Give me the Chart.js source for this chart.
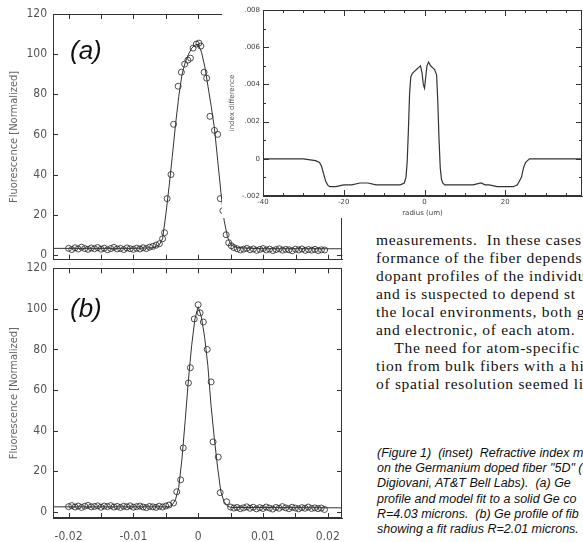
<!DOCTYPE html>
<html>
<head>
<meta charset="utf-8">
<script src="https://cdn.jsdelivr.net/npm/chart.js@4.4.1/dist/chart.umd.min.js"></script>
<style>
  html, body { margin: 0; padding: 0; background: #fff; }
  body { width: 583px; height: 542px; overflow: hidden; position: relative; }
  canvas { position: absolute; }
  #chartA { left: 0; top: 0; }
  #chartB { left: 0; top: 255px; }
  #inset { left: 222px; top: 0; background: #fff; }
  .tag { position: absolute; font: italic 26px "Liberation Sans", Arial, sans-serif; color: #111; }
  #text { position: absolute; left: 376px; top: 231px; font: 15.5px "Liberation Serif", serif;
          line-height: 18px; letter-spacing: 0.7px; white-space: nowrap; color: #111; }
  #caption { position: absolute; left: 377px; top: 446px; font: italic 12.5px "Liberation Sans", Arial, sans-serif;
             line-height: 15.2px; white-space: nowrap; color: #111; }
</style>
</head>
<body>
<canvas id="chartA" width="347" height="273"></canvas>
<canvas id="chartB" width="352" height="287"></canvas>
<canvas id="inset" width="361" height="218"></canvas>
<div class="tag" style="left:70px; top:35px;">(a)</div>
<div class="tag" style="left:70px; top:293px;">(b)</div>
<div id="text">
  <div>measurements.&nbsp; In these cases</div>
  <div>formance of the fiber depends</div>
  <div>dopant profiles of the individu</div>
  <div>and is suspected to depend st</div>
  <div>the local environments, both g</div>
  <div>and electronic, of each atom.</div>
  <div>&nbsp;&nbsp;&nbsp;&nbsp;The need for atom-specific</div>
  <div>tion from bulk fibers with a hi</div>
  <div>of spatial resolution seemed li</div>
</div>
<div id="caption">
  <div>(Figure 1)&nbsp; (inset)&nbsp; Refractive index m</div>
  <div>on the Germanium doped fiber "5D" (</div>
  <div>Digiovani, AT&amp;T Bell Labs).&nbsp; (a) Ge</div>
  <div>profile and model fit to a solid Ge co</div>
  <div>R=4.03 microns.&nbsp; (b) Ge profile of fib</div>
  <div>showing a fit radius R=2.01 microns.</div>
</div>
<script>
// (a) measured points
const aX = [-0.0200,-0.0195,-0.0190,-0.0185,-0.0180,-0.0175,-0.0170,-0.0165,-0.0160,-0.0155,
  -0.0150,-0.0145,-0.0140,-0.0135,-0.0130,-0.0125,-0.0120,-0.0115,-0.0110,-0.0105,
  -0.0100,-0.0095,-0.0090,-0.0085,-0.0080,-0.0075,-0.0070,-0.0065,
  -0.0060,-0.0055,-0.0052,-0.0048,-0.0042,-0.0038,-0.0031,-0.0026,-0.0021,-0.0016,
  -0.0012,-0.0008,-0.0003,0.0001,0.0004,0.0009,0.0013,0.0018,0.0025,0.0030,
  0.0034,0.0038,0.0043,0.0047,0.0051,
  0.0055,0.0060,0.0065,0.0070,0.0075,0.0080,0.0085,0.0090,0.0095,0.0100,
  0.0105,0.0110,0.0115,0.0120,0.0125,0.0130,0.0135,0.0140,0.0145,0.0150,
  0.0155,0.0160,0.0165,0.0170,0.0175,0.0180,0.0185,0.0190,0.0195];
const aY = [3.2,2.6,3.5,2.9,3.8,3.1,2.7,3.4,3.0,3.6,
  2.8,3.3,2.5,3.1,3.7,2.9,3.2,2.6,3.4,3.0,
  2.7,3.3,2.9,3.5,3.1,3.8,4.2,4.8,
  5.5,8,11,28,40,65,84,91,95,97,
  98,103,105,105.5,104,91,88,69,62,60,
  28,22,10,6,4.5,
  3.6,3.0,2.4,2.8,3.2,2.5,2.9,2.2,2.7,3.1,
  2.4,2.8,2.1,2.6,3.0,2.3,2.7,2.5,2.0,2.8,
  2.4,2.9,2.2,2.6,2.3,2.7,2.1,2.5,2.4];
// (a) model fit
const aFitX = [-0.0224,-0.0100,-0.0070,-0.0060,-0.0055,-0.0050,-0.0045,-0.0040,-0.0035,-0.0030,
  -0.0025,-0.0020,-0.0015,-0.0010,-0.0005,0,0.0005,0.0010,0.0015,0.0020,
  0.0025,0.0030,0.0035,0.0040,0.0045,0.0050,0.0060,0.0100,0.0222];
const aFitY = [3.2,3.2,3.5,5,8,20,34,49,65,79,
  90,96,100,103,104.5,105,101,94,84,74,
  63,47,31,17,9,5,3.5,3,3];

// (b) measured points
const bX = [-0.0200,-0.0195,-0.0190,-0.0185,-0.0180,-0.0175,-0.0170,-0.0165,-0.0160,-0.0155,
  -0.0150,-0.0145,-0.0140,-0.0135,-0.0130,-0.0125,-0.0120,-0.0115,-0.0110,-0.0105,
  -0.0100,-0.0095,-0.0090,-0.0085,-0.0080,-0.0075,-0.0070,-0.0065,-0.0060,-0.0055,
  -0.0050,-0.0045,
  -0.0038,-0.0033,-0.0027,-0.0023,-0.0015,-0.0012,-0.0006,0.0000,0.0003,0.0008,
  0.0014,0.0020,0.0023,0.0031,0.0034,0.0044,
  0.0050,0.0055,0.0060,0.0065,0.0070,0.0075,0.0080,0.0085,0.0090,0.0095,
  0.0100,0.0105,0.0110,0.0115,0.0120,0.0125,0.0130,0.0135,0.0140,0.0145,
  0.0150,0.0155,0.0160,0.0165,0.0170,0.0175,0.0180,0.0185,0.0190,0.0195];
const bY = [2.6,3.1,2.4,2.9,2.2,2.8,3.2,2.5,2.7,3.0,
  2.3,2.9,2.6,3.1,2.4,2.7,2.2,2.8,2.5,3.0,
  2.3,2.6,2.9,2.4,2.1,2.7,2.5,2.2,2.8,2.4,
  2.9,3.4,
  4.4,9.9,15.8,31.5,63.5,71,95,102,98,93.5,
  80,64,34.5,27,9.5,5,
  2.4,1.9,2.2,1.6,2.0,2.5,1.8,2.3,1.5,2.1,
  1.7,2.4,1.9,1.4,2.2,1.8,2.6,2.0,1.6,2.3,
  1.9,1.5,2.1,1.8,2.4,1.7,2.0,1.6,1.9,1.2];
// (b) model fit
const bFitX = [-0.0224,-0.0045,-0.0040,-0.0035,-0.0030,-0.0025,-0.0020,-0.0015,-0.0010,-0.0005,
  0,0.0005,0.0010,0.0015,0.0020,0.0025,0.0030,0.0035,0.0040,0.0045,0.0050,0.0222];
const bFitY = [2.5,2.5,3.5,6,12,26,45,65,82,95,
  101,96,86,72,52,36,22,10,5,3,2.2,2];

// inset: refractive index profile
const radius = [-40,-30,-27,-26,-25.5,-25,-24.5,-24,-23.5,-23,-22,-20,-18,-16,-15,-14,-12,-10,-8,-6,
  -5,-4.6,-4.3,-4,-3.7,-3.4,-3,-2.5,-2,-1.5,-1,-0.6,-0.3,0,0.3,0.6,1,1.5,2,2.5,
  3,3.3,3.6,3.9,4.2,4.5,5,6,8,10,12,14,15,16,18,20,22,23,24,24.5,
  25,25.5,26,27,30,35,39];
const indexDiff = [0,0,-0.0001,-0.0002,-0.0004,-0.0008,-0.0012,-0.0014,-0.0015,-0.0015,-0.0015,-0.0014,-0.0014,-0.0013,-0.0013,-0.0013,-0.0014,-0.0014,-0.0014,-0.0014,
  -0.0013,-0.0010,-0.0002,0.0015,0.0035,0.0044,0.0046,0.0047,0.0048,0.0049,0.0050,0.0046,0.0040,0.0038,0.0044,0.0050,0.0052,0.0050,0.0049,0.0048,
  0.0045,0.0030,0.0010,-0.0005,-0.0011,-0.0013,-0.0014,-0.0014,-0.0014,-0.0014,-0.0014,-0.0013,-0.0014,-0.0014,-0.0015,-0.0015,-0.0015,-0.0014,-0.0010,-0.0005,
  -0.0002,-0.0001,0,0,0,0,0];

const pairs = (xs, ys) => xs.map((x, i) => ({ x: x, y: ys[i] }));
const tickFont = { family: '"Liberation Sans Narrow", "DejaVu Sans Condensed", sans-serif', size: 12 };
const frameColor = '#333';
const axisLine = { display: true, color: frameColor, width: 1 };

// box round the plot area with inward ticks, placed from the chart's own scales
function drawFrame(chart, major, minor) {
  const ctx = chart.ctx, a = chart.chartArea;
  const xs = chart.scales.x, ys = chart.scales.y;
  ctx.save();
  ctx.globalAlpha = 1;
  ctx.globalCompositeOperation = 'source-over';
  ctx.setLineDash([]);
  ctx.strokeStyle = frameColor;
  ctx.lineWidth = 1;
  ctx.beginPath();
  ctx.rect(Math.round(a.left) + 0.5, Math.round(a.top) + 0.5,
           Math.round(a.right - a.left) - 1, Math.round(a.bottom - a.top) - 1);
  xs.ticks.forEach(t => {
    const p = Math.round(xs.getPixelForValue(t.value)) + 0.5;
    const l = t.label === '' ? minor : major;
    ctx.moveTo(p, a.bottom); ctx.lineTo(p, a.bottom - l);
    ctx.moveTo(p, a.top); ctx.lineTo(p, a.top + l);
  });
  ys.ticks.forEach(t => {
    const p = Math.round(ys.getPixelForValue(t.value)) + 0.5;
    const l = t.label === '' ? minor : major;
    ctx.moveTo(a.left, p); ctx.lineTo(a.left + l, p);
    ctx.moveTo(a.right, p); ctx.lineTo(a.right - l, p);
  });
  ctx.stroke();
  ctx.restore();
}

const framePlugin = (major, minor) => ({
  id: 'frameTicks',
  afterDraw(chart) { drawFrame(chart, major, minor); }
});

function profileChart(id, px, py, fx, fy, yMin, topPad, showX) {
  return new Chart(document.getElementById(id), {
    type: 'scatter',
    data: {
      datasets: [
        { data: pairs(fx, fy), showLine: true, pointRadius: 0, borderColor: '#333', borderWidth: 1 },
        { data: pairs(px, py), pointRadius: 3, pointStyle: 'circle', borderColor: '#222',
          borderWidth: 0.8, backgroundColor: 'rgba(0,0,0,0)' }
      ]
    },
    options: {
      responsive: false,
      animation: false,
      layout: { padding: { top: topPad, right: 3, left: 0, bottom: 0 } },
      plugins: { legend: { display: false }, tooltip: { enabled: false } },
      scales: {
        x: {
          type: 'linear', min: -0.0224, max: 0.0222,
          grid: { display: false, drawTicks: false }, border: axisLine,
          ticks: {
            display: showX, stepSize: 0.005, includeBounds: false, padding: 12,
            color: '#555', font: tickFont, maxRotation: 0, autoSkip: false,
            callback: v => {
              const k = Math.round(v * 1000);
              if (k % 10 !== 0) return '';
              return k === 0 ? '0' : (k / 1000).toFixed(2);
            }
          },
          afterFit: s => { s.height = showX ? 24 : 2; }
        },
        y: {
          min: yMin, max: 120,
          grid: { display: false, drawTicks: false }, border: axisLine,
          ticks: { stepSize: 20, includeBounds: false, padding: 6, color: '#555', font: tickFont },
          title: { display: true, text: 'Fluorescence [Normalized]', color: '#666',
                   font: { family: tickFont.family, size: 11 }, padding: { top: 8, bottom: 0 } },
          afterFit: s => { s.width = 53; }
        }
      }
    },
    plugins: [framePlugin(5, 5)]
  });
}

const chartA = profileChart('chartA', aX, aY, aFitX, aFitY, -2.5, 14, false);
const chartB = profileChart('chartB', bX, bY, bFitX, bFitY, -3, 6, true);

const insetFont = { family: '"DejaVu Sans", sans-serif', size: 7 };
const inset = new Chart(document.getElementById('inset'), {
  type: 'scatter',
  data: {
    datasets: [{ data: pairs(radius, indexDiff), showLine: true, pointRadius: 0,
                 borderColor: '#333', borderWidth: 1.2 }]
  },
  options: {
    responsive: false,
    animation: false,
    layout: { padding: { top: 10, right: 1, left: 0, bottom: 0 } },
    plugins: { legend: { display: false }, tooltip: { enabled: false } },
    scales: {
      x: {
        type: 'linear', min: -40, max: 39,
        grid: { display: false, drawTicks: false }, border: axisLine,
        ticks: { stepSize: 5, includeBounds: false, padding: 2, color: '#444', font: insetFont,
                 maxRotation: 0, autoSkip: false,
                 callback: v => (v % 20 === 0 ? String(v) : '') },
        title: { display: true, text: 'radius (um)', color: '#444', font: insetFont, padding: 1 },
        afterFit: s => { s.height = 22; }
      },
      y: {
        min: -0.002, max: 0.008,
        grid: { display: false, drawTicks: false }, border: axisLine,
        ticks: { stepSize: 0.001, includeBounds: false, padding: 3, color: '#444', font: insetFont,
                 autoSkip: false,
                 callback: v => {
                   const k = Math.round(v * 1000);
                   if (k % 2 !== 0) return '';
                   if (k === 0) return '0';
                   return (k < 0 ? '-' : '') + '.' + String(Math.abs(k)).padStart(3, '0');
                 } },
        title: { display: true, text: 'index difference', color: '#555', font: insetFont,
                 padding: { top: 6, bottom: 0 } },
        afterFit: s => { s.width = 41; }
      }
    }
  },
  plugins: [framePlugin(6, 3)]
});

// draw the frames once more after every chart exists, in case a hook was skipped
drawFrame(chartA, 5, 5);
drawFrame(chartB, 5, 5);
drawFrame(inset, 6, 3);
</script>
</body>
</html>
